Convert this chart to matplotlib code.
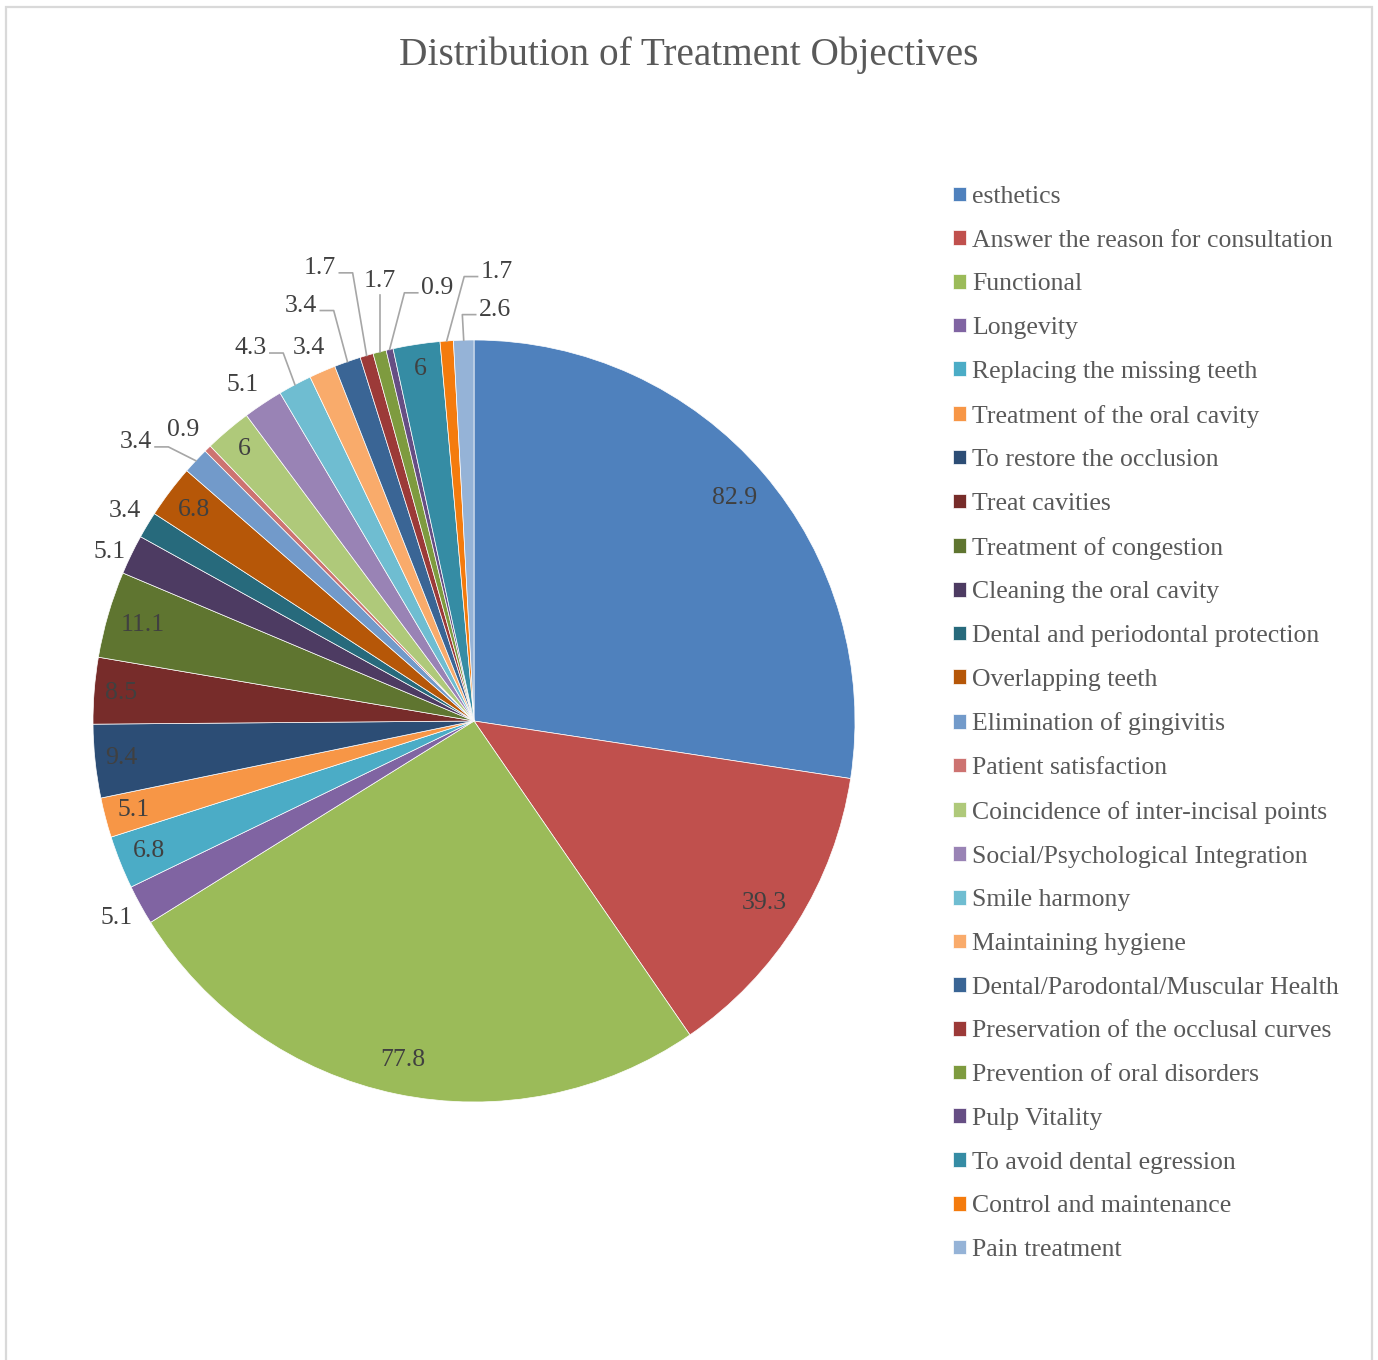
import numpy as np
import matplotlib.pyplot as plt
from matplotlib.patches import Rectangle

# data
objectives = ["esthetics", "Answer the reason for consultation", "Functional", "Longevity",
              "Replacing the missing teeth", "Treatment of the oral cavity", "To restore the occlusion",
              "Treat cavities", "Treatment of congestion", "Cleaning the oral cavity",
              "Dental and periodontal protection", "Overlapping teeth", "Elimination of gingivitis",
              "Patient satisfaction", "Coincidence of inter-incisal points",
              "Social/Psychological Integration", "Smile harmony", "Maintaining hygiene",
              "Dental/Parodontal/Muscular Health", "Preservation of the occlusal curves",
              "Prevention of oral disorders", "Pulp Vitality", "To avoid dental egression",
              "Control and maintenance", "Pain treatment"]
values = [82.9, 39.3, 77.8, 5.1, 6.8, 5.1, 9.4, 8.5, 11.1, 5.1, 3.4, 6.8, 3.4,
          0.9, 6, 5.1, 4.3, 3.4, 3.4, 1.7, 1.7, 0.9, 6, 1.7, 2.6]
colors = ["#4F81BD", "#C0504D", "#9BBB59", "#8064A2", "#4BACC6", "#F79646", "#2C4D75",
          "#772C2A", "#5F7530", "#4D3B62", "#276A7C", "#B65708", "#729ACA", "#CD7371",
          "#AFC97A", "#9983B5", "#6FBDD1", "#F9AB6B", "#3A6595", "#9C3A38", "#7E9B3F",
          "#664E84", "#358CA4", "#F47B0D", "#95B3D7"]

# label layout: radius (pie radius = 1), angle nudge in degrees, leader line or not
lab_r = [0.90, 0.90, 0.91, 1.07, 0.92, 0.925, 0.93, 0.93, 0.905, 1.055, 1.07, 0.92, 1.15,
         1.08, 0.935, 1.07, 1.14, 1.07, 1.18, 1.255, 1.18, 1.14, 0.935, 1.18, 1.08]
lab_shift = [0, 0, 0, 0, 0, 0, 0, 0, 0, 1.0, 0, 0, 3.6, 0.7, 0, 0.9, 2.9, 0.4, 3.2, 2.4,
             -2.3, -7.9, 0, -7.0, -4.45]
leader = [0, 0, 0, 0, 0, 0, 0, 0, 0, 0, 0, 0, 1, 0, 0, 0, 1, 0, 1, 1, 1, 1, 0, 1, 1]

W, H = 1378, 1360
plt.rcParams['font.family'] = ['Liberation Serif', 'DejaVu Serif']
fig = plt.figure(figsize=(W / 100, H / 100), dpi=100)

# chart border
fig.patches.append(Rectangle((6 / W, -0.05), 1366 / W, 1.05 - 7 / H, transform=fig.transFigure,
                             fill=False, edgecolor='#D9D9D9', linewidth=1.6))

cx, cy, R = 474, 721, 381
ax = fig.add_axes([(cx - R) / W, (H - cy - R) / H, 2 * R / W, 2 * R / H])
wedges, _ = ax.pie(values, colors=colors, startangle=90, counterclock=False, radius=1,
                   wedgeprops=dict(edgecolor='white', linewidth=0.5))
ax.set_xlim(-1, 1)
ax.set_ylim(-1, 1)
ax.set_aspect('equal')
ax.axis('off')

texts = []
mids = []
for i, w in enumerate(wedges):
    mid = np.deg2rad((w.theta1 + w.theta2) / 2)
    mids.append(mid)
    a = mid + np.deg2rad(lab_shift[i])
    t = ax.text(lab_r[i] * np.cos(a), lab_r[i] * np.sin(a), f"{values[i]:g}",
                ha='center', va='center', fontsize=18.5, color='#404040')
    texts.append(t)

# leader lines
fig.canvas.draw()
rend = fig.canvas.get_renderer()
inv = ax.transData.inverted()
gap = 0.008
for i, t in enumerate(texts):
    if not leader[i]:
        continue
    bb = t.get_window_extent(rend)
    (x0, y0), (x1, y1) = inv.transform([[bb.x0, bb.y0], [bb.x1, bb.y1]])
    px, py = np.cos(mids[i]), np.sin(mids[i])
    ym = (y0 + y1) / 2 - 0.012
    if x0 - gap <= px <= x1 + gap:
        xs, ys = [px, px], [y0 - gap, py]
    elif px < x0:
        xs, ys = [x0 - gap, x0 - gap - 0.035, px], [ym, ym, py]
    else:
        xs, ys = [x1 + gap, x1 + gap + 0.035, px], [ym, ym, py]
    ax.plot(xs, ys, color='#A6A6A6', linewidth=1.2, clip_on=False)

fig.text(689 / W, 1 - 55 / H, "Distribution of Treatment Objectives", ha='center', va='center',
         fontsize=28.3, color='#595959')

leg = fig.legend(wedges, objectives, loc='upper left', bbox_to_anchor=(953 / W, 1 - 186 / H),
                 frameon=False, fontsize=18.5, handlelength=0.5, handleheight=0.5,
                 handletextpad=0.25, labelspacing=0.845, borderpad=0, borderaxespad=0)
for txt in leg.get_texts():
    txt.set_color('#595959')

fig.savefig("out.png", dpi=100)
